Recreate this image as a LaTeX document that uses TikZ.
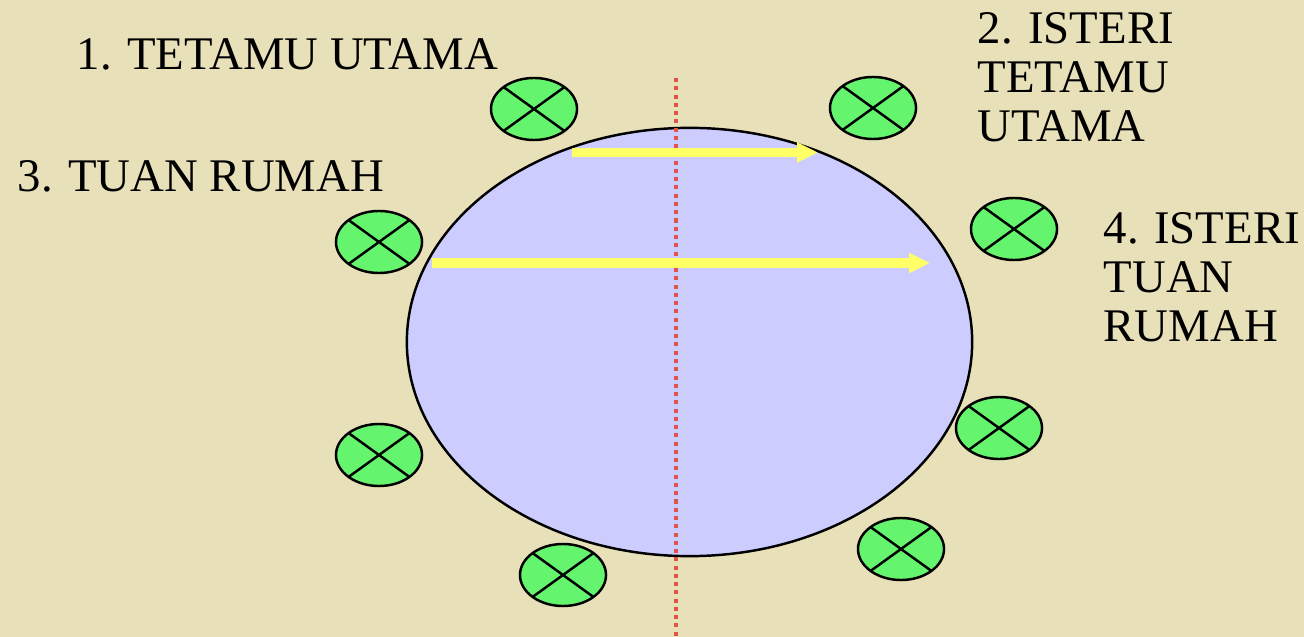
\documentclass[tikz,border=0pt]{standalone}
\usepackage{fontspec}
\setmainfont{Liberation Serif}
\usetikzlibrary{arrows.meta,shapes.geometric}

\definecolor{paper}{RGB}{232,224,184}
\definecolor{tablecol}{RGB}{204,204,255}
\definecolor{seatcol}{RGB}{100,244,110}
\definecolor{axiscol}{RGB}{221,85,72}
\definecolor{flowcol}{RGB}{255,255,102}

\begin{document}
\begin{tikzpicture}[x=0.01cm, y=-0.01cm,
    seat/.style={ellipse, draw, line width=0.7pt, fill=seatcol,
      minimum width=0.86cm, minimum height=0.62cm, inner sep=0pt,
      path picture={\draw[line width=0.7pt]
        (path picture bounding box.north west) -- (path picture bounding box.south east)
        (path picture bounding box.north east) -- (path picture bounding box.south west);}},
    tablebox/.style={ellipse, draw, line width=0.7pt, fill=tablecol,
      minimum width=5.65cm, minimum height=4.28cm, inner sep=0pt},
    axisline/.style={axiscol, line width=1.1pt, dash pattern=on 1.15pt off 1.2pt},
    flow/.style={flowcol, line width=2.6pt, -{Triangle[length=0.21cm, width=0.19cm]}},
    label/.style={anchor=north west, inner sep=0pt, align=left,
      font=\fontsize{13.3}{13.9}\selectfont}]
  \useasboundingbox (0,0) rectangle (1304,637);
  \fill[paper] (0,0) rectangle (1304,637);

  % table
  \node[tablebox] (table) at (689.5,342) {};

  % middle line
  \coordinate (axtop) at (676,78);
  \coordinate (axbot) at (676,637);
  \draw[axisline] (axtop) -- (axbot);

  % order of service
  \coordinate (fa1) at (572,152.5);
  \coordinate (fa2) at (818,152.5);
  \coordinate (fb1) at (432,263);
  \coordinate (fb2) at (930,263);
  \draw[flow] (fa1) -- (fa2);
  \draw[flow] (fb1) -- (fb2);

  % seats
  \node[seat] (guest)     at (534,109) {};
  \node[seat] (guestwife) at (873,108) {};
  \node[seat] (host)      at (379,242) {};
  \node[seat] (hostwife)  at (1014,229) {};
  \node[seat] (seatE)     at (379,455) {};
  \node[seat] (seatF)     at (999,428) {};
  \node[seat] (seatG)     at (563,575) {};
  \node[seat] (seatH)     at (901,549) {};

  % names
  \node[label] (lguest)     at (76,38)   {1. TETAMU UTAMA};
  \node[label] (lguestwife) at (977,12)  {2. ISTERI\\TETAMU\\UTAMA};
  \node[label] (lhost)      at (17,160)  {3. TUAN RUMAH};
  \node[label] (lhostwife)  at (1103,212) {4. ISTERI\\TUAN\\RUMAH};
\end{tikzpicture}
\end{document}
